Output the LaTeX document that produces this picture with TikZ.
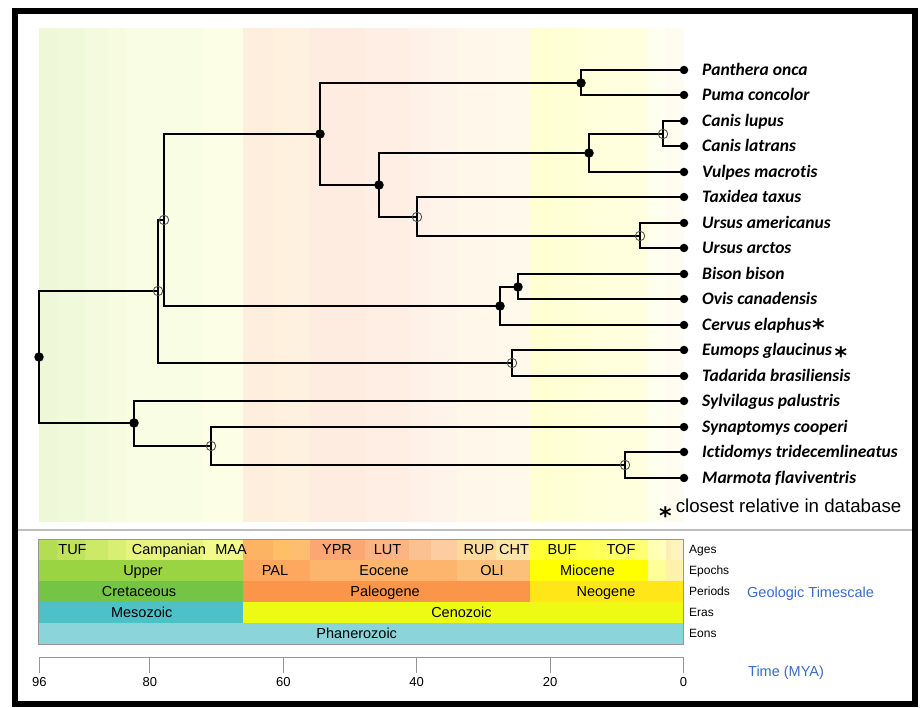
\documentclass[tikz,border=0pt]{standalone}
\usepackage{fontspec}
\setmainfont{Liberation Sans}
\newfontfamily\leaffont{Carlito}[Ligatures={NoCommon,NoContextual}]
\newfontfamily\starfont{DejaVu Sans}
\definecolor{tsblue}{RGB}{58,108,200}
\definecolor{axisgray}{RGB}{150,150,150}
\definecolor{sepgray}{RGB}{190,190,190}
\definecolor{opengray}{RGB}{70,70,70}
\newcommand{\tX}[1]{683.5-6.67*(#1)}
\newcommand{\mystar}[1]{\smash{\raisebox{#1}{\starfont\bfseries\fontsize{24}{24}\selectfont *}}}
\newcommand{\ageslist}{96.7/93.9/B3DE53, 93.9/89.8/BFE35D, 89.8/86.3/CCE968, 86.3/83.6/D9EF74, 83.6/72.1/E6F47F, 72.1/66/F2FA8C, 66/61.6/FDB462, 61.6/59.2/FEBF65, 59.2/56/FDBF6F, 56/47.8/FCA773, 47.8/41.2/FCB482, 41.2/37.8/FDC091, 37.8/33.9/FDCDA1, 33.9/28.1/FED99A, 28.1/23.03/FEE6AA, 23.03/20.44/FFFF33, 20.44/15.97/FFFF41, 15.97/13.82/FFFF4D, 13.82/11.63/FFFF59, 11.63/7.246/FFFF66, 7.246/5.333/FFFF73, 5.333/3.6/FFFFB3, 3.6/2.58/FFFFBF, 2.58/1.8/FFEDB3, 1.8/0.774/FFF2BA, 0.774/0.129/FFF2C7, 0.129/0/FFF2D3}
\newcommand{\epochlist}{96.7/66/9AD443, 66/56/FDA75F, 56/33.9/FDB46C, 33.9/23.03/FDC07A, 23.03/5.333/FFFF00, 5.333/2.58/FFFF99, 2.58/0/FFF2AE}
\newcommand{\periodlist}{96.7/66/74C445, 66/23.03/FB9549, 23.03/0/FFE619}
\newcommand{\eralist}{96.7/66/4CC2C8, 66/0/EFFA14}
\tikzset{
  tree/.style={line width=2pt, line cap=rect},
  fnode/.style={circle, fill=black, inner sep=0pt, minimum size=9.5pt},
  onode/.style={circle, draw=opengray, line width=0.8pt, inner sep=0pt, minimum size=9.5pt},
  leafdot/.style={circle, fill=black, inner sep=0pt, minimum size=8.5pt},
  leaf/.style={anchor=base west, inner sep=0pt, font=\leaffont\bfseries\itshape\fontsize{17.5}{20}\selectfont},
  tslabel/.style={anchor=base, inner sep=0pt, font=\fontsize{14.5}{16}\selectfont},
  rowlabel/.style={anchor=base west, inner sep=0pt, font=\fontsize{12}{14}\selectfont},
  ticklabel/.style={anchor=base, inner sep=0pt, font=\fontsize{13}{15}\selectfont},
  bluelabel/.style={anchor=base west, inner sep=0pt, text=tsblue, font=\fontsize{14.5}{16}\selectfont}
}
\begin{document}
\begin{tikzpicture}[x=1pt,y=1pt]
\useasboundingbox (0,0) rectangle (922,-708);
\fill[white] (0,0) rectangle (922,-708);
% background geologic shading behind the tree
\foreach \a/\b/\c in \ageslist {
  \definecolor{tmp}{HTML}{\c}
  \fill[tmp!22!white] ({\tX{\a}},-28) rectangle ({\tX{\b}},-522);
}
% separator
\draw[sepgray, line width=2pt] (17,-530) -- (912,-530);
% ---- timescale ----
\foreach \a/\b/\c in \ageslist {
  \definecolor{tmp}{HTML}{\c}
  \fill[tmp] ({\tX{\a}},-539.3) rectangle ({\tX{\b}},-560);
}
\foreach \a/\b/\c in \epochlist {
  \definecolor{tmp}{HTML}{\c}
  \fill[tmp] ({\tX{\a}},-560) rectangle ({\tX{\b}},-581);
}
\foreach \a/\b/\c in \periodlist {
  \definecolor{tmp}{HTML}{\c}
  \fill[tmp] ({\tX{\a}},-581) rectangle ({\tX{\b}},-602);
}
\foreach \a/\b/\c in \eralist {
  \definecolor{tmp}{HTML}{\c}
  \fill[tmp] ({\tX{\a}},-602) rectangle ({\tX{\b}},-622.7);
}
\fill[fill={rgb,255:red,138;green,212;blue,218}] (38.3,-622.7) rectangle (683.5,-644);
\draw[axisgray, line width=0.8pt] (38.3,-539.3) rectangle (683.5,-644);
% ages labels
\node[tslabel] (aTUF) at (72.5,-554.9) {TUF};
\node[tslabel] (aCAM) at (169,-554.9) {Campanian};
\node[tslabel] (aMAA) at (231,-554.9) {MAA};
\node[tslabel] (aYPR) at (337,-554.9) {YPR};
\node[tslabel] (aLUT) at (387.5,-554.9) {LUT};
\node[tslabel] (aRUP) at (479,-554.9) {RUP};
\node[tslabel] (aCHT) at (514,-554.9) {CHT};
\node[tslabel] (aBUF) at (562,-554.9) {BUF};
\node[tslabel] (aTOF) at (621,-554.9) {TOF};
% epochs
\node[tslabel] (eUp) at (143,-575.7) {Upper};
\node[tslabel] (ePAL) at (275,-575.7) {PAL};
\node[tslabel] (eEoc) at (384,-575.7) {Eocene};
\node[tslabel] (eOLI) at (492,-575.7) {OLI};
\node[tslabel] (eMio) at (587.5,-575.7) {Miocene};
% periods
\node[tslabel] (pCre) at (139,-596.7) {Cretaceous};
\node[tslabel] (pPal) at (385,-596.7) {Paleogene};
\node[tslabel] (pNeo) at (606,-596.7) {Neogene};
% eras / eons
\node[tslabel] (rMes) at (141.7,-617.7) {Mesozoic};
\node[tslabel] (rCen) at (461.5,-617.7) {Cenozoic};
\node[tslabel] (oPha) at (356.7,-638.7) {Phanerozoic};
% row names
\node[rowlabel] (nAges) at (689,-554) {Ages};
\node[rowlabel] (nEpo) at (689,-574.8) {Epochs};
\node[rowlabel] (nPer) at (689,-595.8) {Periods};
\node[rowlabel] (nEra) at (689,-616.8) {Eras};
\node[rowlabel] (nEon) at (689,-637.8) {Eons};
\node[bluelabel] (gts) at (747,-597.7) {Geologic Timescale};
% ---- time axis ----
\coordinate (ax96) at (39.4,-657.3);
\coordinate (ax80) at ({\tX{80}},-657.3);
\coordinate (ax60) at ({\tX{60}},-657.3);
\coordinate (ax40) at ({\tX{40}},-657.3);
\coordinate (ax20) at ({\tX{20}},-657.3);
\coordinate (ax0) at ({\tX{0}},-657.3);
\draw[axisgray, line width=1pt] (ax96) -- (ax0);
\foreach \t in {96,80,60,40,20,0} {
  \draw[axisgray, line width=1pt] (ax\t) -- ++(0,-16);
  \node[ticklabel] (tl\t) at ([yshift=-29.4pt]ax\t) {\t};
}
\node[bluelabel] (tmya) at (748,-677) {Time (MYA)};
% ---- tree ----
\foreach \i/\y in {0/70,1/95,2/121,3/146,4/172,5/197,6/223,7/248,8/274,9/299,10/325,11/350,12/376,13/401,14/427,15/452,16/478} {
  \coordinate (L\i) at (684,-\y);
}
\coordinate (fel) at (581,-83);
\coordinate (canis) at (663,-134);
\coordinate (canid) at (589,-153);
\coordinate (urs) at (640,-236);
\coordinate (mus) at (417,-217);
\coordinate (cnf) at (379,-185);
\coordinate (carn) at (320,-134);
\coordinate (bov) at (518,-287);
\coordinate (cet) at (500,-306);
\coordinate (nA) at (164,-220);
\coordinate (bat) at (512,-363);
\coordinate (nB) at (158,-291);
\coordinate (sci) at (625,-465);
\coordinate (rod) at (211,-446);
\coordinate (gli) at (134,-423);
\coordinate (root) at (39,-357);
\draw[tree] (L0) -| (fel) |- (L1);
\draw[tree] (L2) -| (canis) |- (L3);
\draw[tree] (canis) -| (canid) |- (L4);
\draw[tree] (L6) -| (urs) |- (L7);
\draw[tree] (L5) -| (mus) |- (urs);
\draw[tree] (canid) -| (cnf) |- (mus);
\draw[tree] (fel) -| (carn) |- (cnf);
\draw[tree] (L8) -| (bov) |- (L9);
\draw[tree] (bov) -| (cet) |- (L10);
\draw[tree] (carn) -| (nA) |- (cet);
\draw[tree] (L11) -| (bat) |- (L12);
\draw[tree] (nA) -| (nB) |- (bat);
\draw[tree] (L15) -| (sci) |- (L16);
\draw[tree] (L14) -| (rod) |- (sci);
\draw[tree] (L13) -| (gli) |- (rod);
\draw[tree] (nB) -| (root) |- (gli);
% node markers
\node[fnode] (mfel) at (fel) {};
\node[onode] (mcanis) at (canis) {};
\node[fnode] (mcanid) at (canid) {};
\node[onode] (murs) at (urs) {};
\node[onode] (mmus) at (mus) {};
\node[fnode] (mcnf) at (cnf) {};
\node[fnode] (mcarn) at (carn) {};
\node[fnode] (mbov) at (bov) {};
\node[fnode] (mcet) at (cet) {};
\node[onode] (mA) at (nA) {};
\node[onode] (mbat) at (bat) {};
\node[onode] (mB) at (nB) {};
\node[onode] (msci) at (sci) {};
\node[onode] (mrod) at (rod) {};
\node[fnode] (mgli) at (gli) {};
\node[fnode] (mroot) at (root) {};
\foreach \i in {0,...,16} { \node[leafdot] (d\i) at (L\i) {}; }
% leaf labels
\node[leaf] (t0) at ([shift={(18pt,-5.5pt)}]L0) {Panthera onca};
\node[leaf] (t1) at ([shift={(18pt,-5.5pt)}]L1) {Puma concolor};
\node[leaf] (t2) at ([shift={(18pt,-5.5pt)}]L2) {Canis lupus};
\node[leaf] (t3) at ([shift={(18pt,-5.5pt)}]L3) {Canis latrans};
\node[leaf] (t4) at ([shift={(18pt,-5.5pt)}]L4) {Vulpes macrotis};
\node[leaf] (t5) at ([shift={(18pt,-5.5pt)}]L5) {Taxidea taxus};
\node[leaf] (t6) at ([shift={(18pt,-5.5pt)}]L6) {Ursus americanus};
\node[leaf] (t7) at ([shift={(18pt,-5.5pt)}]L7) {Ursus arctos};
\node[leaf] (t8) at ([shift={(18pt,-5.5pt)}]L8) {Bison bison};
\node[leaf] (t9) at ([shift={(18pt,-5.5pt)}]L9) {Ovis canadensis};
\node[leaf] (t10) at ([shift={(18pt,-5.5pt)}]L10) {Cervus elaphus\hspace{1pt}\mystar{-6pt}};
\node[leaf] (t11) at ([shift={(18pt,-5.5pt)}]L11) {Eumops glaucinus\hspace{2.5pt}\mystar{-9pt}};
\node[leaf] (t12) at ([shift={(18pt,-5.5pt)}]L12) {Tadarida brasiliensis};
\node[leaf] (t13) at ([shift={(18pt,-5.5pt)}]L13) {Sylvilagus palustris};
\node[leaf] (t14) at ([shift={(18pt,-5.5pt)}]L14) {Synaptomys cooperi};
\node[leaf] (t15) at ([shift={(18pt,-5.5pt)}]L15) {Ictidomys tridecemlineatus};
\node[leaf] (t16) at ([shift={(18pt,-5.5pt)}]L16) {Marmota flaviventris};
\node[anchor=base west, inner sep=0pt, font=\fontsize{18.7}{20}\selectfont] (note) at (659,-513) {\mystar{-12pt}\hspace{4pt}closest relative in database};
% frame
\draw[line width=6pt] (15,-11) rectangle (915,-704);
\end{tikzpicture}
\end{document}
